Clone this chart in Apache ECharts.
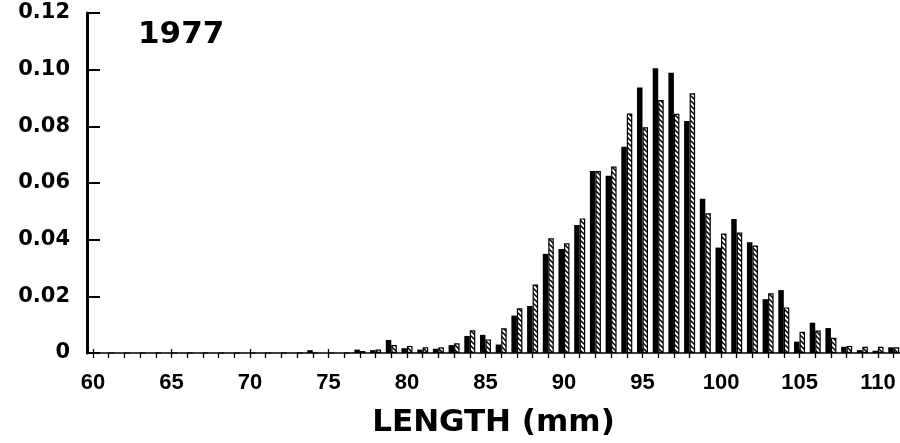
<!DOCTYPE html>
<html>
<head>
<meta charset="utf-8">
<title>1977 length distribution</title>
<script src="https://cdn.jsdelivr.net/npm/echarts@6.0.0/dist/echarts.min.js"></script>
<style>
  html, body { margin: 0; padding: 0; background: #fff; }
  #chart { width: 900px; height: 443px; }
</style>
</head>
<body>
<div id="chart"></div>
<script>
// Length classes (mm), one pair of bars per class
const lengths = [
  60, 61, 62, 63, 64, 65, 66, 67, 68, 69,
  70, 71, 72, 73, 74, 75, 76, 77, 78, 79,
  80, 81, 82, 83, 84, 85, 86, 87, 88, 89,
  90, 91, 92, 93, 94, 95, 96, 97, 98, 99,
  100, 101, 102, 103, 104, 105, 106, 107, 108, 109,
  110, 111
];

// Proportion of fish per length class, solid bars
const solidShare = [
  0, 0, 0, 0, 0, 0, 0, 0, 0, 0,
  0, 0, 0, 0, 0.001, 0, 0, 0.0012, 0.001, 0.0046,
  0.0017, 0.0012, 0.0015, 0.0028, 0.006, 0.0064, 0.003, 0.0132, 0.0166, 0.035,
  0.0367, 0.0452, 0.0642, 0.0626, 0.0728, 0.0937, 0.1005, 0.0989, 0.0819, 0.0544,
  0.0372, 0.0473, 0.0391, 0.019, 0.0222, 0.004, 0.0107, 0.0088, 0.0022, 0.001,
  0.0008, 0.002
];

// Proportion of fish per length class, hatched bars
const hatchedShare = [
  0, 0, 0, 0, 0, 0, 0, 0, 0, 0,
  0, 0, 0, 0, 0, 0, 0, 0.0007, 0.0012, 0.0028,
  0.0025, 0.002, 0.002, 0.0034, 0.008, 0.0048, 0.0087, 0.0158, 0.0242, 0.0405,
  0.0387, 0.0475, 0.0642, 0.0658, 0.0845, 0.0797, 0.0893, 0.0844, 0.0917, 0.0493,
  0.0422, 0.0425, 0.0379, 0.0211, 0.0161, 0.0075, 0.0079, 0.0054, 0.0025, 0.0022,
  0.0022, 0.002
];

// Labelled lengths on the x axis
const xLabelValues = [60, 65, 70, 75, 80, 85, 90, 95, 100, 105, 110];
// Y axis range and step
const yMin = 0;
const yMax = 0.12;
const yStep = 0.02;

// Diagonal hatch pattern for the second bar of each pair
function makeHatch() {
  const s = 5;
  const c = document.createElement('canvas');
  c.width = s; c.height = s;
  const g = c.getContext('2d');
  g.fillStyle = '#fff';
  g.fillRect(0, 0, s, s);
  g.strokeStyle = '#000';
  g.lineWidth = 1.5;
  g.beginPath();
  g.moveTo(-1, -1); g.lineTo(s + 1, s + 1);
  g.moveTo(-1, s - 1); g.lineTo(1, s + 1);
  g.moveTo(s - 1, -1); g.lineTo(s + 1, 1);
  g.stroke();
  return c;
}

const chart = echarts.init(document.getElementById('chart'), null, { renderer: 'canvas' });

const boldWide = 'DejaVu Sans';
const boldNarrow = 'Liberation Sans';

chart.setOption({
  animation: false,
  backgroundColor: '#fff',
  title: {
    text: '1977',
    left: 133,
    top: 14,
    textStyle: { fontFamily: boldWide, fontWeight: 'bold', fontSize: 31, color: '#000' }
  },
  grid: {
    left: 87, right: 0, top: 13, bottom: 90,
    outerBoundsMode: 'none'
  },
  xAxis: [
    {
      type: 'value',
      min: 59.62,
      max: 111.4,
      name: 'LENGTH (mm)',
      nameLocation: 'middle',
      nameGap: 54,
      nameTextStyle: { fontFamily: boldWide, fontWeight: 'bold', fontSize: 31, color: '#000' },
      splitLine: { show: false },
      axisLine: { show: true, onZero: false, lineStyle: { color: '#000', width: 1.5 } },
      axisTick: {
        show: true, inside: false, length: 5,
        lineStyle: { color: '#000', width: 1.3 },
        customValues: lengths
      },
      axisLabel: {
        show: true, margin: 19,
        fontFamily: boldNarrow, fontWeight: 'bold', fontSize: 22, color: '#000',
        customValues: xLabelValues
      }
    },
    {
      // taller marks at every fifth millimetre
      type: 'value',
      position: 'bottom',
      min: 59.62,
      max: 111.4,
      splitLine: { show: false },
      axisLine: { show: false },
      axisLabel: { show: false },
      axisTick: {
        show: true, inside: true, length: 4,
        lineStyle: { color: '#000', width: 1.3 },
        customValues: xLabelValues
      }
    }
  ],
  yAxis: {
    type: 'value',
    min: yMin,
    max: yMax,
    interval: yStep,
    splitLine: { show: false },
    axisLine: { show: true, onZero: false, lineStyle: { color: '#000', width: 3 } },
    axisTick: { show: true, inside: true, length: 13, lineStyle: { color: '#000', width: 2 } },
    axisLabel: {
      margin: 17,
      fontFamily: boldWide, fontWeight: 'bold', fontSize: 21, color: '#000',
      formatter: v => (v === 0 ? '0' : v.toFixed(2))
    }
  },
  series: [
    {
      name: 'solid',
      type: 'bar',
      xAxisIndex: 0,
      barWidth: 5.5,
      barGap: '0%',
      itemStyle: { color: '#000' },
      data: lengths.map((x, i) => [x, solidShare[i]])
    },
    {
      name: 'hatched',
      type: 'bar',
      xAxisIndex: 0,
      barWidth: 5.5,
      barGap: '0%',
      itemStyle: {
        color: { image: makeHatch(), repeat: 'repeat' },
        borderColor: '#000',
        borderWidth: 1.2
      },
      data: lengths.map((x, i) => [x, hatchedShare[i]])
    }
  ]
});
</script>
</body>
</html>
